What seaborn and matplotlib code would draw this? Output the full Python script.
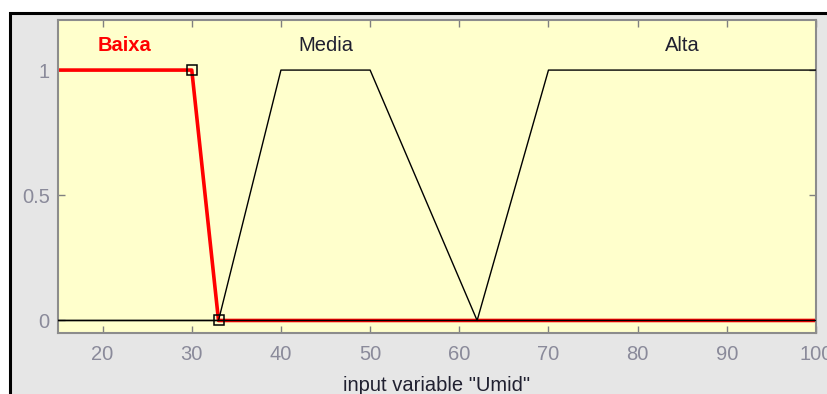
import matplotlib
matplotlib.use("Agg")
import matplotlib.pyplot as plt
import seaborn as sns
import pandas as pd
from matplotlib.patches import Rectangle

# ---- data ----
mf_names = ["Baixa", "Media", "Alta"]
baixa_x = [15, 30, 33, 100]
baixa_y = [1, 1, 0, 0]
media_x = [15, 33, 40, 50, 62, 100]
media_y = [0, 0, 1, 1, 0, 0]
alta_x = [15, 62, 70, 100]
alta_y = [0, 0, 1, 1]
label_x = [22.5, 45, 85]
label_y = 1.1
x_ticks = [20, 30, 40, 50, 60, 70, 80, 90, 100]
y_ticks = [0, 0.5, 1]
y_tick_labels = ["0", "0.5", "1"]
marker_x = [30, 33]
marker_y = [1, 0]
xlabel = 'input variable "Umid"'

sns.set_theme(style="white")
plt.rcParams['font.family'] = ['Liberation Sans', 'DejaVu Sans']

W, H = 828, 394
FS = 14.5
fig = plt.figure(figsize=(W / 100, H / 100), dpi=100, facecolor="white")
# gray panel with black frame
fig.patches.append(Rectangle((10 / W, -0.05), 1.0, (H - 13) / H + 0.05,
                             transform=fig.transFigure, facecolor="#e6e6e6",
                             edgecolor="black", linewidth=2.2, zorder=-10))

ax = fig.add_axes([58 / W, 1 - 333 / H, (816 - 58) / W, (333 - 20) / H])
ax.set_zorder(5)
ax.set_facecolor("#ffffcc")

df_media = pd.DataFrame({"x": media_x, "y": media_y})
df_alta = pd.DataFrame({"x": alta_x, "y": alta_y})
df_baixa = pd.DataFrame({"x": baixa_x, "y": baixa_y})

sns.lineplot(data=df_baixa, x="x", y="y", ax=ax, color="#ff0000", linewidth=2.6,
             estimator=None, sort=False, zorder=2)
sns.lineplot(data=df_media, x="x", y="y", ax=ax, color="black", linewidth=1.0,
             estimator=None, sort=False, zorder=3)
sns.lineplot(data=df_alta, x="x", y="y", ax=ax, color="black", linewidth=1.0,
             estimator=None, sort=False, zorder=3)
ax.plot(marker_x, marker_y, linestyle="none", marker="s", markersize=7.5,
        markerfacecolor="none", markeredgecolor="black", markeredgewidth=1.1, zorder=4)

colors = ["#ff0000", "#202030", "#202030"]
weights = ["bold", "normal", "normal"]
for name, lx, c, w in zip(mf_names, label_x, colors, weights):
    ax.text(lx, label_y, name, color=c, fontweight=w, fontsize=FS,
            ha="center", va="center")

ax.set_xlim(15, 100)
ax.set_ylim(-0.05, 1.2)
ax.set_xticks(x_ticks)
ax.set_xticklabels([str(t) for t in x_ticks])
ax.set_yticks(y_ticks)
ax.set_yticklabels(y_tick_labels)
ax.tick_params(axis="both", direction="in", length=5, width=1, color="#808080",
               labelcolor="#8a8a9a", labelsize=FS, top=True, right=True,
               bottom=True, left=True)
ax.tick_params(axis="x", pad=9)
ax.tick_params(axis="y", pad=6)
for s in ax.spines.values():
    s.set_color("#8c8c8c")
    s.set_linewidth(1.5)
ax.set_xlabel(xlabel, color="#202030", fontsize=FS, labelpad=8)
ax.set_ylabel("")

fig.savefig("out.png", dpi=100, facecolor=fig.get_facecolor())
